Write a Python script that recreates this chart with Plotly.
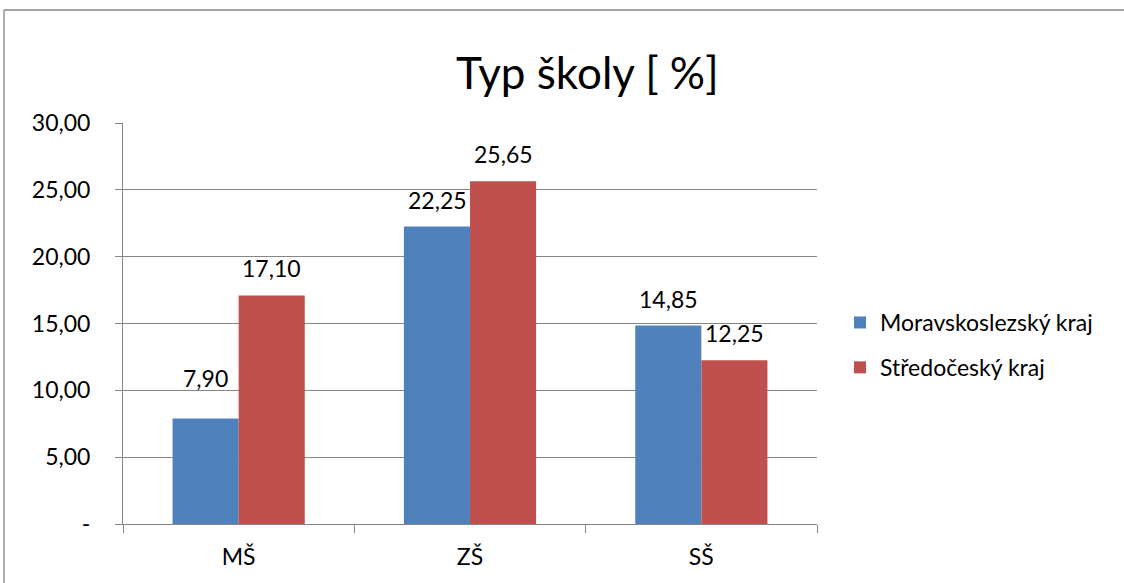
import plotly.graph_objects as go

categories = ["MŠ", "ZŠ", "SŠ"]
series_names = ["Moravskoslezský kraj", "Středočeský kraj"]
moravskoslezsky = [7.90, 22.25, 14.85]
stredocesky = [17.10, 25.65, 12.25]
ytick_vals = [0, 5, 10, 15, 20, 25, 30]
ytick_text = ["-", "5,00", "10,00", "15,00", "20,00", "25,00", "30,00"]
colors = ["#4F81BD", "#C0504D"]

FONT = "Lato"
FS = 23
W, H = 1124, 583
L, R, T, B = 123, 817, 123, 524  # plot area in px

def fmt(v):
    return f"{v:.2f}".replace(".", ",")

fig = go.Figure()
for i, (name, vals) in enumerate(zip(series_names, [moravskoslezsky, stredocesky])):
    fig.add_trace(go.Bar(
        x=categories, y=vals, name=name, marker_color=colors[i],
        marker_line_width=0, legendgroup=name,
    ))

# data labels (offsets in pixels)
label_yshift = {(0, 0): 40}
ann = []
for si, vals in enumerate([moravskoslezsky, stredocesky]):
    for ci, v in enumerate(vals):
        ann.append(dict(
            x=categories[ci], y=v, xref="x", yref="y", text=fmt(v),
            showarrow=False, xshift=(-33 if si == 0 else 33),
            yshift=label_yshift.get((si, ci), 27), yanchor="middle",
            font=dict(family=FONT, size=FS, color="#000000"),
        ))

ann.append(dict(
    x=(587 - L) / (R - L), y=(B - 72) / (B - T), xref="paper", yref="paper",
    text="Typ školy [ %]", showarrow=False, xanchor="center", yanchor="middle",
    font=dict(family=FONT, size=44, color="#000000"),
))

pw, ph = R - L, B - T
bx0, by0 = (4 - L) / pw, (B - 10) / ph
shapes = [
    dict(type="line", xref="paper", yref="paper",
         x0=bx0, x1=(W + 10 - L) / pw, y0=by0, y1=by0,
         line=dict(color="#868686", width=1.3)),
    dict(type="line", xref="paper", yref="paper",
         x0=bx0, x1=bx0, y0=by0, y1=(B - H - 10) / ph,
         line=dict(color="#868686", width=1.3)),
]

fig.update_layout(
    width=W, height=H,
    margin=dict(l=L, r=W - R, t=T, b=H - B, pad=0),
    paper_bgcolor="white", plot_bgcolor="white",
    barmode="group", bargap=0.4286, bargroupgap=0,
    font=dict(family=FONT, size=FS, color="#000000"),
    annotations=ann, shapes=shapes,
    legend=dict(
        x=(840 - L) / pw, y=(B - 345) / ph, xanchor="left", yanchor="middle",
        font=dict(family=FONT, size=FS, color="#000000"),
        tracegroupgap=12, traceorder="grouped",
        bgcolor="rgba(0,0,0,0)",
    ),
    showlegend=True,
)
fig.update_yaxes(
    range=[0, 30], tickvals=ytick_vals, ticktext=ytick_text,
    showgrid=True, gridcolor="#868686", gridwidth=1,
    showline=True, linecolor="#868686", linewidth=1,
    ticks="outside", ticklen=7, tickcolor="#868686",
    ticklabelstandoff=20, zeroline=False,
    tickfont=dict(family=FONT, size=FS, color="#000000"),
)
fig.update_xaxes(
    showline=True, linecolor="#868686", linewidth=1,
    ticks="outside", ticklen=8, tickcolor="#868686", tickson="boundaries",
    ticklabelstandoff=12,
    tickfont=dict(family=FONT, size=FS, color="#000000"),
)

fig.write_html("out.html")
